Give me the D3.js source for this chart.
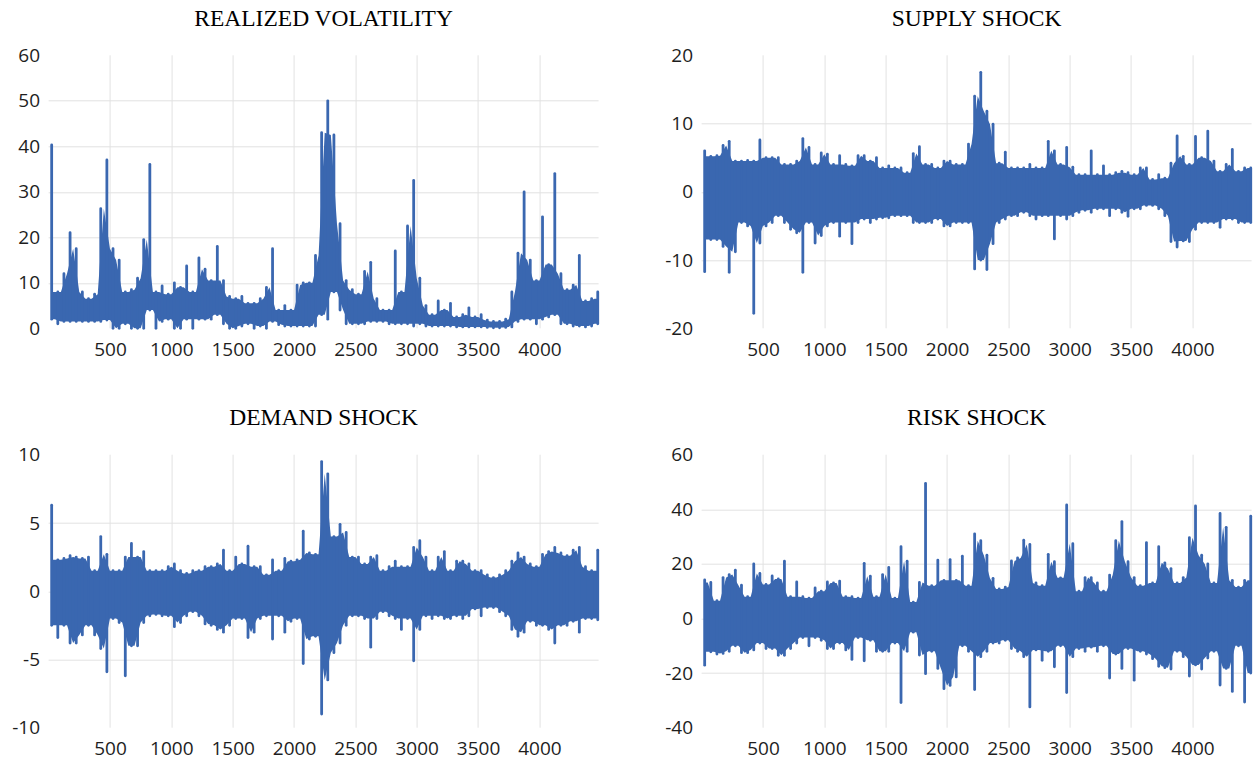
<!DOCTYPE html>
<html>
<head>
<meta charset="utf-8">
<script src="https://cdnjs.cloudflare.com/ajax/libs/d3/7.8.5/d3.min.js"></script>
<style>
body { margin: 0; background: #fff; }
</style>
</head>
<body>
<div id="chart-area"></div>
<script>
/*
*    four shock panels, each series stored as the high / low of every 50-obs block
*/

var xTicks = [500, 1000, 1500, 2000, 2500, 3000, 3500, 4000]
var nObs = 4482
var block = 50

var rvTicks = [0, 10, 20, 30, 40, 50, 60]
var supplyTicks = [-20, -10, 0, 10, 20]
var demandTicks = [-10, -5, 0, 5, 10]
var riskTicks = [-40, -20, 0, 20, 40, 60]

var rvHi = [40.3, 8, 12, 21, 17.5, 8, 6.5, 7.5, 26.3, 37,
	17.5, 15, 8, 8.5, 11, 19.5, 36, 8, 9.3, 7.5,
	10, 9, 13.7, 8, 15.5, 13, 10.5, 18, 10.5, 7,
	6.5, 7, 5.5, 5.5, 6.5, 9, 17.5, 4, 5, 4,
	9.5, 10, 10, 16, 43, 50, 42.5, 23, 10.5, 8.5,
	7.5, 12.5, 14.5, 6.5, 4, 4, 17, 8, 22.5, 32.5,
	11, 5, 3, 6, 4, 5.5, 2.5, 3, 4.5, 2.5,
	3, 1.8, 1.5, 1.5, 2, 8, 16.5, 30, 15, 10.5,
	24.5, 14, 34, 12, 8.5, 9.5, 16, 6, 6.5, 8]
var rvLo = [2, 1, 1.5, 1.5, 1.5, 1.5, 1.5, 1.5, 1.5, 1.8,
	0, 0, 1, 0, 0, 0, 4, 0, 1.5, 2,
	0, 0, 2, 0, 2, 2, 2, 3, 1, 0,
	0, 0.5, 1, 0, 0.5, 0, 1.5, 0.8, 0.5, 0.5,
	0.5, 0.5, 0.5, 0.5, 3, 2, 8, 4, 1, 1,
	1, 1, 1.5, 1.5, 1.5, 1, 1, 1, 1, 0.5,
	1, 0.5, 0.5, 0.5, 0.5, 0.5, 0.3, 0.3, 0.3, 0.3,
	0.3, 0.2, 0.1, 0.1, 0.2, 0.3, 1.5, 2, 2, 1,
	2, 2.5, 3, 1, 1, 0.5, 0.5, 0.3, 0.5, 1]

var supplyHi = [6, 5.2, 5.3, 6.8, 7.4, 4.5, 4.5, 4.6, 4.5, 7.6,
	5, 5, 5, 4, 4, 4.5, 7.8, 6.5, 4, 5.7,
	5.5, 4, 5.3, 4, 3.8, 5.3, 5.3, 4.5, 5, 3.5,
	3.8, 3.5, 3.5, 2.8, 5.6, 6.6, 4, 4, 3.5, 4.5,
	4.5, 4, 4, 7, 14, 17.5, 11.8, 9.9, 4.2, 5.8,
	3.5, 3.5, 3.5, 4, 3.5, 3.5, 7.4, 6, 4, 6.5,
	3.6, 2.5, 2.5, 6, 2.5, 3.8, 2.5, 2.8, 3, 2.8,
	2.5, 3.5, 3.5, 1.8, 2.5, 2, 4.2, 8.2, 5.2, 4,
	8.1, 5, 8.9, 4.5, 3, 4, 6.2, 3, 3.5, 3.5]
var supplyLo = [-11.7, -7, -7, -8, -11.8, -8.8, -4.5, -5, -17.8, -7.5,
	-5, -4.5, -3.5, -4.5, -5.5, -6, -11.8, -4.5, -7.5, -6.4,
	-5, -4.5, -6.5, -4.5, -7.6, -4.5, -4, -4.5, -4, -3.8,
	-3.8, -3.5, -3.5, -3.5, -4.5, -4.5, -4.5, -4.5, -4, -5,
	-5, -4.5, -4.5, -4.5, -11.3, -10, -11.4, -7.6, -4.5, -4,
	-3.5, -3.5, -3, -3.5, -4, -3.5, -3.5, -6.9, -3.5, -4,
	-3.5, -3, -2.7, -3, -2.5, -2.5, -3.5, -2.5, -3, -3.6,
	-2.5, -2.5, -2, -2, -2.5, -3.5, -7.3, -8.1, -7.2, -7.3,
	-5.5, -4.5, -4.5, -4.5, -5.2, -4, -4, -4.5, -4.5, -4.5]

var demandHi = [6.3, 2.3, 2.4, 2.6, 2.5, 2.4, 2.5, 1.5, 4, 2.7,
	1.5, 1.5, 2.5, 3.5, 2.5, 2.9, 1.5, 1.5, 1.5, 1.8,
	2, 1.5, 1.3, 1.5, 1.5, 1.8, 1.8, 2, 3, 1.5,
	2.5, 2, 3.3, 1.8, 1.8, 1.2, 2.3, 1.5, 2.4, 2.2,
	2.3, 4.4, 2.8, 2.7, 9.5, 8.6, 4, 4.9, 4.3, 2.5,
	2.5, 2, 2.5, 2.6, 1.5, 1.8, 2.2, 1.8, 1.8, 3.2,
	3.7, 2.5, 1.5, 2.5, 2.9, 1.5, 2.2, 2.2, 2, 1.5,
	1.5, 1.2, 1, 1.2, 1.5, 2.2, 2.8, 2.5, 2, 1.8,
	2.7, 2.9, 3.2, 2.8, 2.6, 3, 3.2, 1.8, 1.5, 3]
var demandLo = [-2.5, -3.4, -2.5, -3.8, -3.8, -3.2, -2.5, -3.2, -4.2, -5.9,
	-2, -2.3, -6.2, -4, -4, -2.3, -1.8, -1.7, -1.8, -1.8,
	-2.6, -2.3, -1.8, -1.5, -1.8, -2.4, -2.5, -2.8, -3, -2.5,
	-2, -2, -3.4, -3, -2, -1.8, -3.5, -1.8, -3, -2.2,
	-2, -5.3, -3.5, -3.3, -9, -6.5, -4.5, -3.8, -2.5, -1.8,
	-1.8, -2, -4.1, -2, -1.5, -1.8, -2, -2.8, -2, -5.1,
	-2.8, -1.8, -2, -1.8, -2, -2, -1.8, -2, -1.8, -1.3,
	-1.8, -1.2, -1.2, -1.5, -1.8, -2.8, -3.3, -3, -2.2, -2.5,
	-2.5, -2.8, -3.8, -2.5, -2.5, -2.2, -3, -2, -2, -2.1]

var riskHi = [14.1, 13.2, 6.5, 15, 16.1, 17.7, 12.2, 8, 20, 16.5,
	12.5, 15.6, 14.5, 21, 8, 13.4, 8, 7.5, 11.2, 10,
	13.4, 13, 13.7, 8, 8, 7.5, 20.2, 15.5, 8, 16.1,
	18.7, 7.5, 26.3, 21, 6, 13.2, 49.5, 12, 21.4, 14,
	21.6, 14, 22.8, 12, 31, 28.5, 23.2, 14.7, 10.8, 11.5,
	21.1, 22.2, 28.7, 27.1, 13, 12, 23.5, 20.8, 14.9, 41.6,
	27.4, 10, 15, 15, 13, 10, 15.9, 28.5, 35.5, 20.8,
	15, 12, 27.8, 13, 26.3, 20.4, 18.3, 13, 15, 29.6,
	41.2, 23.2, 20, 13, 38.5, 33.4, 14, 11.5, 14, 37.5]
var riskLo = [-17.1, -12.2, -13, -12.8, -12, -10, -12.5, -12.5, -11.5, -9,
	-11, -11, -13.5, -13.5, -11, -9, -7, -10, -7, -8,
	-11, -11, -9, -11.5, -15, -7, -15.5, -8, -12, -12,
	-12, -9, -30.8, -12, -5, -13.4, -20.2, -12, -18.3, -25.7,
	-24.5, -21.4, -10, -12, -26, -14, -12, -9, -9, -8,
	-11, -12, -14, -32.4, -11.5, -15.3, -12, -17.7, -10, -27.1,
	-14, -11, -12, -10.5, -12, -10, -21.8, -13, -18.3, -11,
	-22.6, -12, -13, -14.7, -17.5, -18, -18.5, -12, -14, -21.1,
	-17, -18.5, -14.5, -12, -24.4, -18.3, -26.7, -10, -30.6, -20]

var w = 550
var h = 273
var blue = "#3a67b0"

var panels = [
	{title: "REALIZED VOLATILITY", hi: rvHi, lo: rvLo, ticks: rvTicks, left: 48.6, top: 55.3},
	{title: "SUPPLY SHOCK", hi: supplyHi, lo: supplyLo, ticks: supplyTicks, left: 701.6, top: 55.3},
	{title: "DEMAND SHOCK", hi: demandHi, lo: demandLo, ticks: demandTicks, left: 48.6, top: 454.7},
	{title: "RISK SHOCK", hi: riskHi, lo: riskLo, ticks: riskTicks, left: 701.6, top: 454.7}
]

var svg = d3.select("#chart-area").append("svg")
	.attr("width", 1257)
	.attr("height", 763)

panels.forEach(function(p) {
	var g = svg.append("g").attr("transform", "translate(" + p.left + ", " + p.top + ")")

	var x = d3.scaleLinear()
		.domain([0, nObs])
		.range([0, w])

	var y = d3.scaleLinear()
		.domain([p.ticks[0], p.ticks[p.ticks.length - 1]])
		.range([h, 0])

	// grid
	g.selectAll(".vgrid")
		.data(xTicks)
		.enter()
		.append("line")
		.attr("class", "vgrid")
		.attr("x1", d => Math.round(x(d)) + 0.5)
		.attr("x2", d => Math.round(x(d)) + 0.5)
		.attr("y1", 0)
		.attr("y2", h)
		.attr("stroke", "#e2e2e2")

	g.selectAll(".hgrid")
		.data(p.ticks.slice(1, -1))
		.enter()
		.append("line")
		.attr("class", "hgrid")
		.attr("x1", 0)
		.attr("x2", w)
		.attr("y1", d => Math.round(y(d)) + 0.5)
		.attr("y2", d => Math.round(y(d)) + 0.5)
		.attr("stroke", "#e2e2e2")

	// axes, labels only
	var leftAxis = d3.axisLeft(y)
		.tickValues(p.ticks)
		.tickSize(0)
		.tickPadding(8.5)
		.tickFormat(d => String(d))

	var bottomAxis = d3.axisBottom(x)
		.tickValues(xTicks)
		.tickSize(0)
		.tickPadding(14)
		.tickFormat(d => String(d))

	var yAxisGroup = g.append("g").call(leftAxis)
	var xAxisGroup = g.append("g").attr("transform", "translate(0, " + h + ")").call(bottomAxis)

	;[yAxisGroup, xAxisGroup].forEach(function(a) {
		a.select(".domain").remove()
		a.selectAll("text")
			.attr("font-family", "'Open Sans', sans-serif")
			.attr("font-size", "19px")
			.attr("fill", "#1e1e1e")
	})

	var mid = i => i * block + block / 2
	var n = p.hi.length

	// dense core: at each block edge, the range shared by the two blocks
	var core = []
	for (var i = 0; i < n - 1; i++) {
		core.push({x: (i + 1) * block, top: Math.min(p.hi[i], p.hi[i + 1]), bot: Math.max(p.lo[i], p.lo[i + 1])})
	}
	core.unshift({x: mid(0), top: core[0].top, bot: core[0].bot})
	core.push({x: mid(n - 1), top: core[core.length - 1].top, bot: core[core.length - 1].bot})

	var area = d3.area()
		.x(d => x(d.x))
		.y0(d => y(d.bot))
		.y1(d => y(d.top))

	g.append("path")
		.datum(core)
		.attr("d", area)
		.attr("fill", blue)

	// series: one stroke from the low to the high of each block
	g.selectAll(".needle")
		.data(p.hi.map((v, i) => ({x: mid(i), hi: v, lo: p.lo[i]})))
		.enter()
		.append("line")
		.attr("class", "needle")
		.attr("x1", d => x(d.x))
		.attr("x2", d => x(d.x))
		.attr("y1", d => y(d.lo))
		.attr("y2", d => y(d.hi))
		.attr("stroke", blue)
		.attr("stroke-width", 2.8)
		.attr("stroke-linecap", "round")

	g.append("text")
		.attr("x", w / 2)
		.attr("y", -29.8)
		.attr("text-anchor", "middle")
		.attr("font-family", "'Liberation Serif', 'Times New Roman', serif")
		.attr("font-size", "23.5px")
		.attr("fill", "#000")
		.text(p.title)
})
</script>
</body>
</html>
